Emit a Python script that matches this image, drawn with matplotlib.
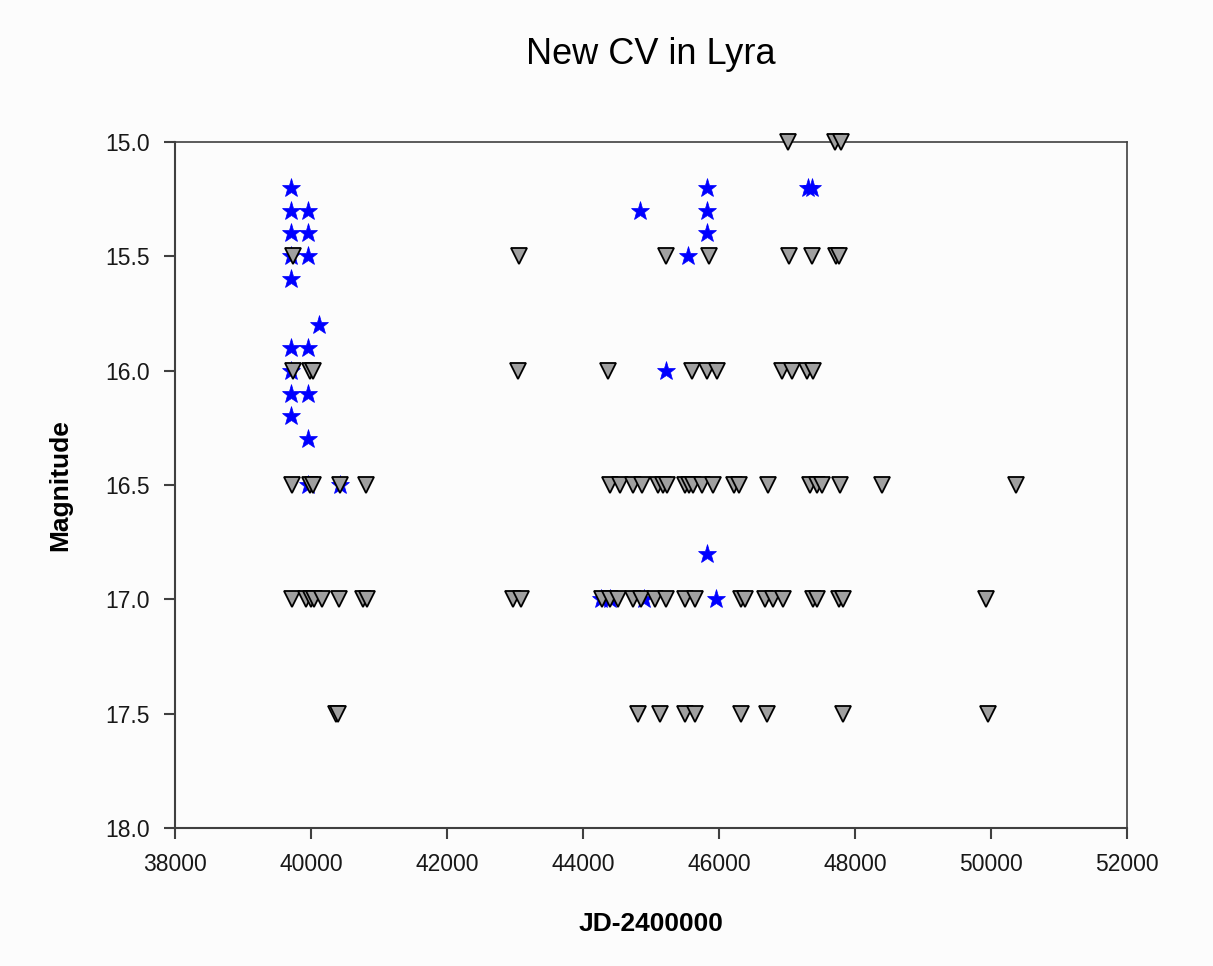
import numpy as np
import matplotlib
matplotlib.use('Agg')
import matplotlib.pyplot as plt

plt.rcParams['font.family'] = ['Liberation Sans', 'DejaVu Sans']

# positive observations (stars)
det_jd = [39700, 39700, 39700, 39700, 39700, 39700, 39700, 39700, 39700,
          39960, 39960, 39960, 39960, 39960, 39960, 39960,
          40120, 40430,
          44260, 44400, 44900, 44840, 45540,
          45820, 45820, 45820, 45820, 45220, 45960,
          47310, 47370]
det_mag = [15.2, 15.3, 15.4, 15.5, 15.6, 15.9, 16.0, 16.1, 16.2,
           15.3, 15.4, 15.5, 15.9, 16.1, 16.3, 16.5,
           15.8, 16.5,
           17.0, 17.0, 17.0, 15.3, 15.5,
           15.2, 15.3, 15.4, 16.8, 16.0, 17.0,
           15.2, 15.2]

# fainter-than observations (triangles), grouped by limit
lim150 = [47010, 47710, 47800]
lim155 = [39730, 43060, 45220, 45850, 47030, 47370, 47720, 47760]
lim160 = [39730, 39980, 40030, 43040, 44370, 45600, 45820, 45970,
          46930, 47070, 47290, 47380]
lim165 = [39720, 39990, 40030, 40430, 40810, 44400, 44540, 44730, 44870,
          45100, 45180, 45240, 45500, 45560, 45620, 45750, 45910, 46220,
          46290, 46720, 47340, 47440, 47510, 47780, 48400, 50370]
lim170 = [39720, 39930, 40000, 40050, 40160, 40410, 40770, 40820, 42970,
          43090, 44280, 44400, 44510, 44730, 44850, 45060, 45220, 45500,
          45640, 46330, 46380, 46680, 46800, 46940, 47380, 47440, 47760,
          47830, 49930]
lim175 = [40370, 40400, 44810, 45130, 45500, 45640, 46320, 46710, 47820, 49950]

lim_jd = lim150 + lim155 + lim160 + lim165 + lim170 + lim175
lim_mag = ([15.0] * len(lim150) + [15.5] * len(lim155) + [16.0] * len(lim160)
           + [16.5] * len(lim165) + [17.0] * len(lim170) + [17.5] * len(lim175))

fig = plt.figure(figsize=(12.13, 9.66), dpi=100, facecolor='#fcfcfc')
ax = fig.add_axes([0.1443, 0.1429, 0.7848, 0.7101])
ax.set_facecolor('#fcfcfc')

ax.plot(det_jd, det_mag, linestyle='none', marker='*', markersize=14,
        color='#0000ff', markeredgewidth=0.5, zorder=3, clip_on=False)
ax.plot(lim_jd, lim_mag, linestyle='none', marker='v', markersize=11,
        markerfacecolor='#a0a0a0', markeredgecolor='black',
        markeredgewidth=1.3, zorder=4, clip_on=False)

ax.set_xlim(38000, 52000)
ax.set_ylim(18.0, 15.0)
ax.set_xticks(np.arange(38000, 52001, 2000))
ax.set_yticks(np.arange(15.0, 18.01, 0.5))
ax.set_yticklabels(['%.1f' % v for v in np.arange(15.0, 18.01, 0.5)])

for s in ax.spines.values():
    s.set_color('#404040')
    s.set_linewidth(1.5)
ax.spines['top'].set_linewidth(1.2)
ax.spines['right'].set_linewidth(1.2)
ax.tick_params(direction='out', length=8, width=1.5, color='#404040',
               labelsize=16.5, pad=10, labelcolor='#181818')

ax.set_title('New CV in Lyra', fontsize=26, pad=56)
ax.set_xlabel('JD-2400000', fontsize=19, fontweight='bold', labelpad=26)
ax.set_ylabel('Magnitude', fontsize=19, fontweight='bold', labelpad=24)

fig.savefig('out.png', dpi=100, facecolor=fig.get_facecolor())
